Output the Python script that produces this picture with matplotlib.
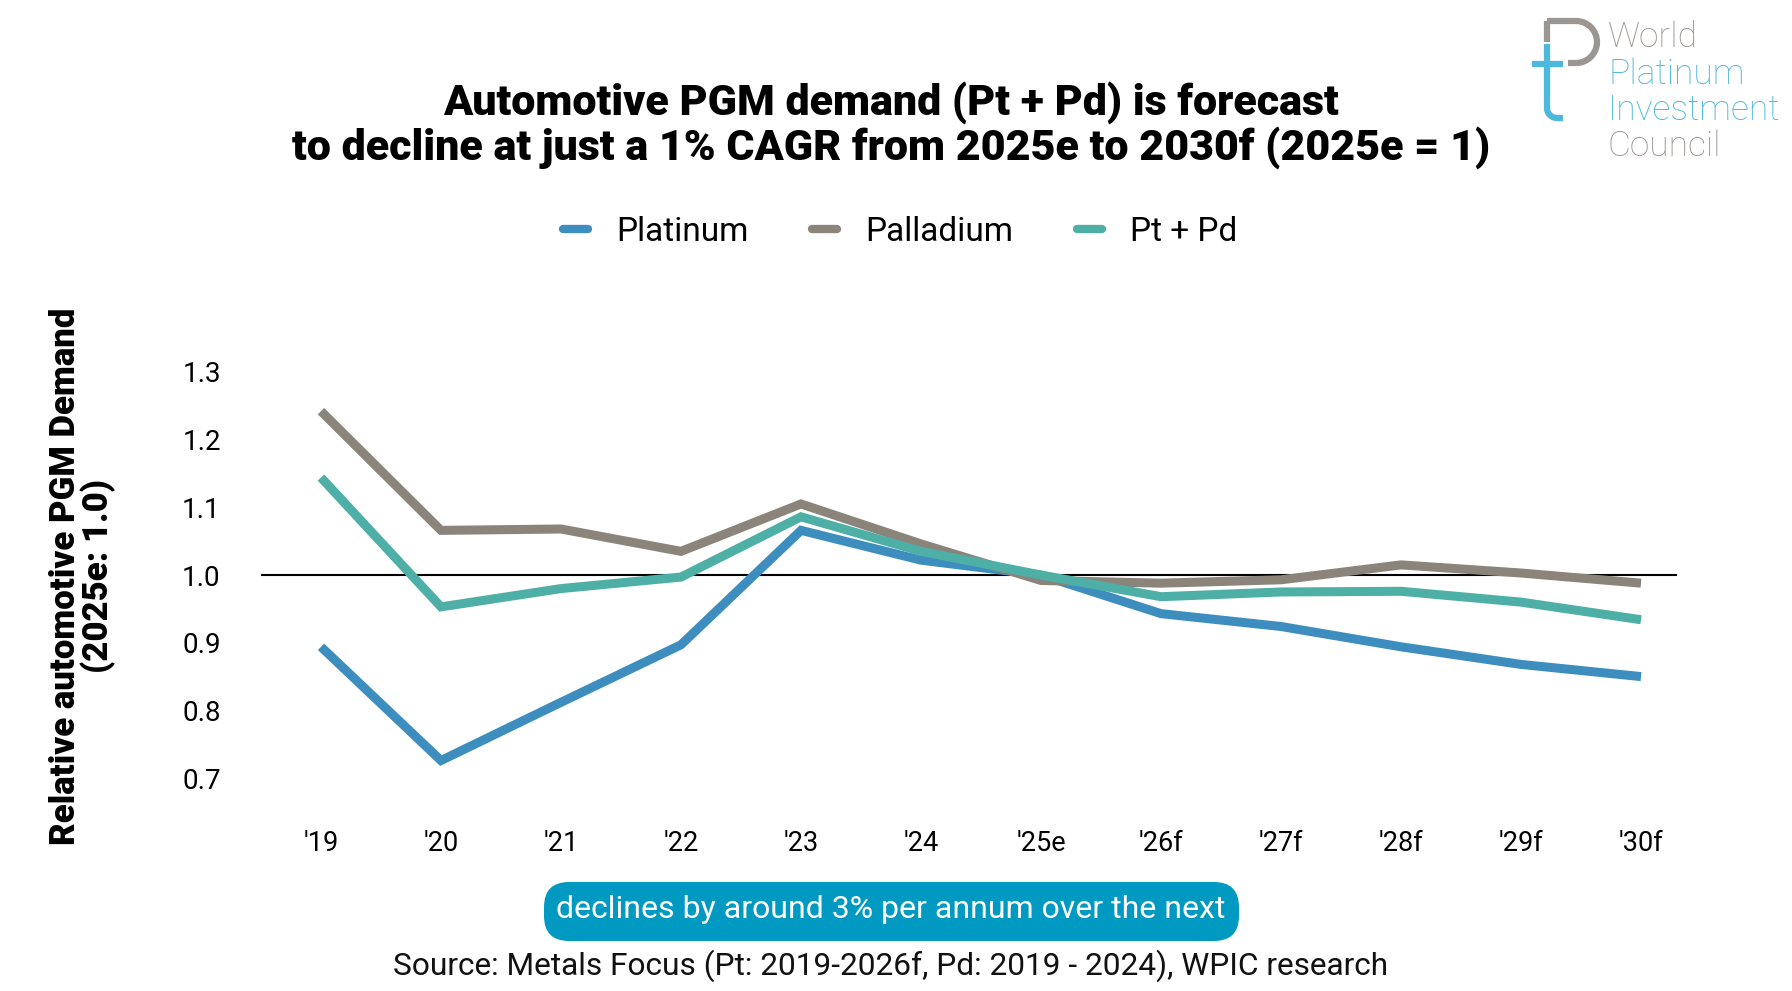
import matplotlib
matplotlib.use("Agg")
import matplotlib.pyplot as plt
from matplotlib.patches import FancyBboxPatch, Arc
from matplotlib.lines import Line2D

years = ["'19", "'20", "'21", "'22", "'23", "'24", "'25e", "'26f", "'27f", "'28f", "'29f", "'30f"]
platinum = [0.894, 0.726, 0.812, 0.897, 1.066, 1.022, 1.000, 0.943, 0.924, 0.894, 0.868, 0.850]
palladium = [1.242, 1.066, 1.068, 1.035, 1.105, 1.046, 0.992, 0.988, 0.993, 1.015, 1.003, 0.988]
pt_pd = [1.144, 0.953, 0.980, 0.997, 1.086, 1.035, 1.000, 0.968, 0.975, 0.976, 0.960, 0.934]
yticks = [0.7, 0.8, 0.9, 1.0, 1.1, 1.2, 1.3]

C_PT = "#3d8ebf"
C_PD = "#8a847b"
C_MIX = "#4eafa7"

plt.rcParams['font.family'] = ['Roboto', 'DejaVu Sans']

W, H = 1792, 991
fig = plt.figure(figsize=(W / 100, H / 100), dpi=100)
fig.patch.set_facecolor("white")

ax = fig.add_axes([261 / W, 1 - 812 / H, (1677 - 261) / W, (812 - 358.4) / H])
x = list(range(len(years)))
ax.axhline(1.0, color="black", lw=1.5, zorder=1)
lw = 6.5
ax.plot(x, platinum, color=C_PT, lw=lw, solid_capstyle="butt", solid_joinstyle="miter", zorder=2, label="Platinum")
ax.plot(x, palladium, color=C_PD, lw=lw, solid_capstyle="butt", solid_joinstyle="miter", zorder=3, label="Palladium")
ax.plot(x, pt_pd, color=C_MIX, lw=lw, solid_capstyle="butt", solid_joinstyle="miter", zorder=4, label="Pt + Pd")
ax.set_xlim(-0.5, 11.3)
ax.set_ylim(0.65, 1.32)
ax.set_xticks(x)
ax.set_xticklabels(years, fontsize=19.5)
ax.set_yticks(yticks)
ax.set_yticklabels([f"{v:.1f}" for v in yticks], fontsize=20)
ax.tick_params(axis="both", length=0, colors="black")
ax.tick_params(axis="y", pad=29)
ax.tick_params(axis="x", pad=13)
for s in ax.spines.values():
    s.set_visible(False)

ax.set_ylabel("Relative automotive PGM Demand\n(2025e: 1.0)", fontsize=25, fontweight="heavy",
              linespacing=0.95)
ax.yaxis.set_label_coords((116 - 261) / (1677 - 261), 0.52)

# Title
fig.text(891 / W, 1 - 125 / H,
         "Automotive PGM demand (Pt + Pd) is forecast\nto decline at just a 1% CAGR from 2025e to 2030f (2025e = 1)",
         ha="center", va="center", fontsize=31, fontweight="heavy", linespacing=1.08)

# Legend
handles = [Line2D([], [], color=C_PT, lw=6, solid_capstyle="round"),
           Line2D([], [], color=C_PD, lw=6, solid_capstyle="round"),
           Line2D([], [], color=C_MIX, lw=6, solid_capstyle="round")]
leg = fig.legend(handles, ["Platinum", "Palladium", "Pt + Pd"], loc="center",
                 bbox_to_anchor=(900 / W, 1 - 232 / H), ncol=3, frameon=False,
                 fontsize=24, handlelength=0.75, handletextpad=0.85, columnspacing=1.9)

# Bottom callout box
box = FancyBboxPatch((544 / W, 1 - 941 / H), (1239 - 544) / W, (941 - 882) / H,
                     boxstyle="round,pad=0.0,rounding_size=0.014", transform=fig.transFigure,
                     facecolor="#0099c1", edgecolor="none", mutation_aspect=W / H)
fig.add_artist(box)
fig.text(891 / W, 1 - 910 / H, "declines by around 3% per annum over the next",
         ha="center", va="center", fontsize=23, color="white")
fig.text(891 / W, 1 - 966 / H, "Source: Metals Focus (Pt: 2019-2026f, Pd: 2019 - 2024), WPIC research",
         ha="center", va="center", fontsize=22.8, color="#111111")

# Logo
GRAY = "#9b9692"
BLUE = "#4bb8dc"
lax = fig.add_axes([0, 0, 1, 1], facecolor="none")
lax.set_xlim(0, W)
lax.set_ylim(H, 0)
lax.axis("off")
# P (gray)
lax.plot([1547, 1547], [21, 42], color=GRAY, lw=4.5, solid_capstyle="butt")
lax.plot([1547, 1576], [21, 21], color=GRAY, lw=4.5, solid_capstyle="butt")
lax.plot([1568, 1576], [63, 63], color=GRAY, lw=4.5, solid_capstyle="butt")
lax.add_patch(Arc((1576, 42), 42, 42, theta1=-90, theta2=90, color=GRAY, lw=4.5))
# t (blue)
lax.plot([1547, 1547], [44, 108], color=BLUE, lw=4.5, solid_capstyle="butt")
lax.plot([1532, 1563], [64, 64], color=BLUE, lw=4.5, solid_capstyle="butt")
lax.add_patch(Arc((1557, 108), 20, 20, theta1=90, theta2=180, color=BLUE, lw=4.5))
lax.plot([1557, 1563], [118, 118], color=BLUE, lw=4.5, solid_capstyle="butt")

logo_lines = [("World", GRAY, 47), ("Platinum", BLUE, 84), ("Investment", BLUE, 120), ("Council", GRAY, 156)]
for txt, col, base in logo_lines:
    lax.text(1608, base, txt, color=col, fontsize=25.5, fontweight="light", ha="left", va="baseline")

fig.savefig("out.png", dpi=100, facecolor="white")
